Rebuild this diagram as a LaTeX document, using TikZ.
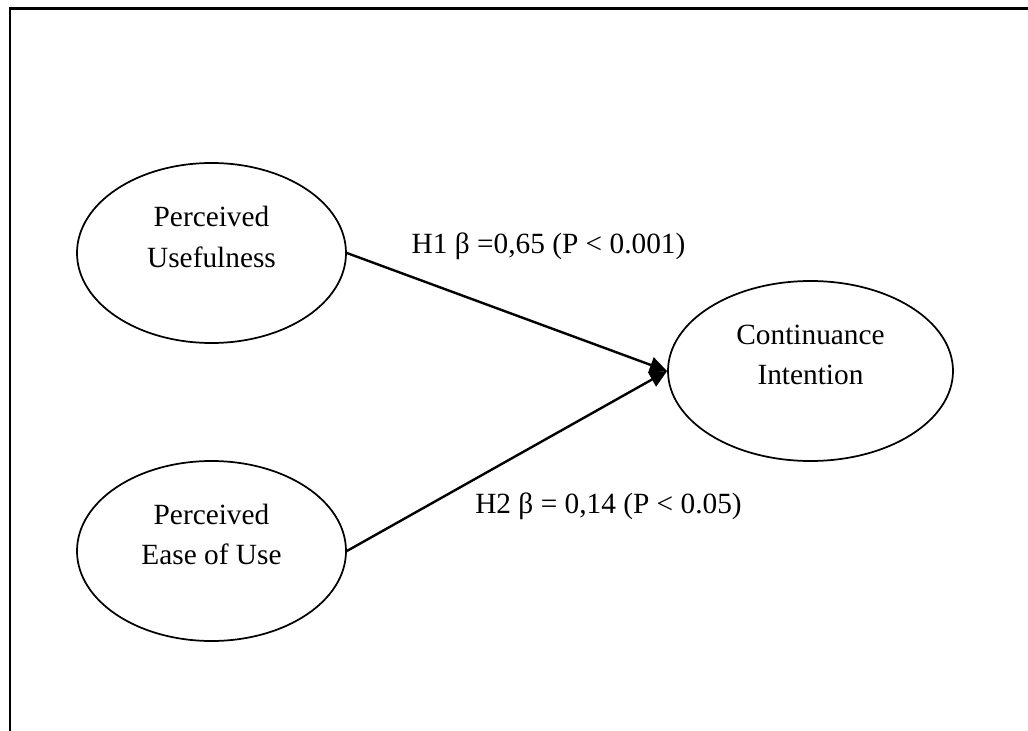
\documentclass[tikz,border=0pt]{standalone}
\usepackage{fontspec}
\setmainfont{Liberation Serif}
\usetikzlibrary{shapes.geometric,arrows.meta}
\tikzset{
  construct/.style={draw, line width=1.3pt, ellipse, inner sep=0pt, minimum height=135pt},
  ctext/.style={align=center, anchor=base, inner sep=0pt, font=\fontsize{22}{30}\selectfont},
  ltext/.style={anchor=base, inner sep=0pt, font=\fontsize{22}{30}\selectfont},
  path arrow/.style={line width=1.8pt, -{Triangle[length=13pt,width=12pt]}},
  frame/.style={line width=2pt}
}
\begin{document}
\begin{tikzpicture}[x=0.75pt,y=-0.75pt]
\useasboundingbox (0,0) rectangle (1028,731);
\coordinate (fa) at (10,731);
\coordinate (fb) at (10,8.5);
\coordinate (fc) at (1028,8.5);
\draw[frame] (fa) -- (fb) -- (fc);

\node[construct, minimum width=201.75pt] (pu) at (211.5,253) {};
\node[construct, minimum width=201.75pt] (peou) at (211.5,551) {};
\node[construct, minimum width=213.75pt] (ci) at (810.5,371) {};

\node[ctext] (put) at (211.5,267) {Perceived\\Usefulness};
\node[ctext] (peout) at (211.5,564) {Perceived\\Ease of Use};
\node[ctext] (cit) at (810.5,384) {Continuance\\Intention};

\draw[path arrow] (pu.east) -- (ci.west);
\draw[path arrow] (peou.east) -- (ci.west);

\node[ltext] (h1) at (548.5,253) {H1 β =0,65 (P < 0.001)};
\node[ltext] (h2) at (608.5,513) {H2 β = 0,14 (P < 0.05)};
\end{tikzpicture}
\end{document}
